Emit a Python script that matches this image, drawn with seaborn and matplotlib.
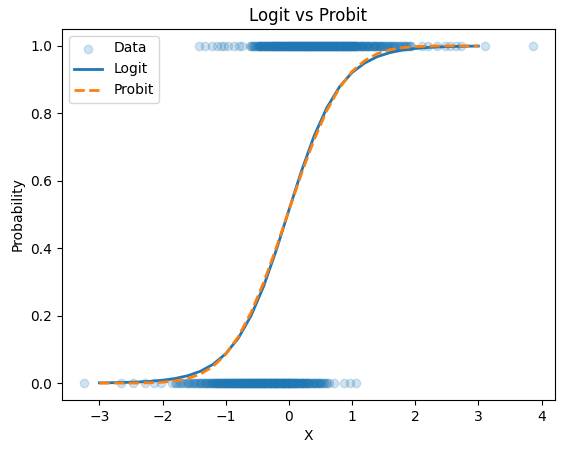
import numpy as np
import pandas as pd
import matplotlib
matplotlib.use("Agg")
import matplotlib.pyplot as plt
import seaborn as sns

x_ones = [-1.43, -1.32, -1.21, -1.13, -1.08, -1.02, -0.96, -0.87, -0.79, -0.74,
          -0.62, -0.58, -0.55, -0.51, -0.48, -0.45, -0.42, -0.40, -0.37, -0.35,
          -0.32, -0.30, -0.28, -0.25, -0.23, -0.21, -0.19, -0.17, -0.15, -0.13,
          -0.11, -0.09, -0.08, -0.06, -0.04, -0.03, -0.01, 0.00, 0.02, 0.03,
          0.05, 0.06, 0.08, 0.09, 0.11, 0.12, 0.14, 0.15, 0.17, 0.18,
          0.20, 0.21, 0.23, 0.24, 0.26, 0.27, 0.29, 0.30, 0.32, 0.33,
          0.35, 0.37, 0.38, 0.40, 0.42, 0.43, 0.45, 0.47, 0.49, 0.51,
          0.53, 0.55, 0.57, 0.59, 0.61, 0.63, 0.65, 0.68, 0.70, 0.72,
          0.75, 0.77, 0.80, 0.82, 0.85, 0.88, 0.91, 0.94, 0.97, 1.00,
          1.03, 1.07, 1.10, 1.14, 1.18, 1.22, 1.26, 1.31, 1.36, 1.41,
          1.46, 1.52, 1.58, 1.65, 1.72, 1.80, 1.87, 1.94,
          2.10, 2.20, 2.34, 2.47, 2.55, 2.65, 2.73, 3.10, 3.86]
# more points in the dark core of the y = 1 row
x_ones_core = [-0.53, -0.49, -0.46, -0.43, -0.41, -0.38, -0.36, -0.33, -0.31, -0.29,
               -0.26, -0.24, -0.22, -0.20, -0.18, -0.16, -0.14, -0.12, -0.10, -0.07,
               -0.05, -0.02, 0.01, 0.04, 0.07, 0.10, 0.13, 0.16, 0.19, 0.22,
               0.25, 0.28, 0.31, 0.34, 0.36, 0.39, 0.41, 0.44, 0.46, 0.48,
               0.50, 0.52, 0.54, 0.56, 0.58, 0.60, 0.62, 0.64, 0.66, 0.67,
               0.69, 0.71, 0.73, 0.74, 0.76, 0.78, 0.79, 0.81, 0.83, 0.84,
               0.86, 0.87, 0.89, 0.90, 0.92, 0.93, 0.95, 0.96, 0.98, 0.99,
               1.01, 1.02, 1.04, 1.05, 1.08, 1.12, 1.16, 1.20, 1.24, 1.28,
               1.33, 1.38, 1.43, 1.49, 1.55, 1.61, 1.68, 1.76, 1.84, 1.91]
x_ones_core2 = [-0.60, -0.56, -0.52, -0.47, -0.44, -0.39, -0.34, -0.27, -0.24, -0.17,
                -0.14, -0.06, 0.00, 0.04, 0.07, 0.10, 0.13, 0.16, 0.19, 0.22,
                0.25, 0.28, 0.31, 0.34, 0.37, 0.40, 0.43, 0.46, 0.49, 0.52,
                0.55, 0.58, 0.61, 0.64, 0.67, 0.70, 0.73, 0.76, 0.79, 0.82,
                0.85, 0.88, 0.91, 0.94, 0.97, 1.00, 1.03, 1.06, 1.09, 1.12,
                1.15, 1.19, 1.23, 1.27, 1.30, 1.34, 1.37, 1.40, 1.44, 1.48,
                1.51, 1.54, 1.57, 1.60, 1.63, 1.66, 1.70, 1.74, 1.78, 1.82,
                1.86, 1.90, 0.05, 0.15, 0.25, 0.35, 0.45, 0.55, 0.65, 0.75,
                0.85, 0.95, 1.05, 1.15, 1.25, 1.35, 1.45, -0.45, -0.35, -0.25,
                -0.15, -0.05]
x_zeros = [-3.24, -2.65, -2.47, -2.28, -2.13, -2.02,
           -1.85, -1.79, -1.73, -1.67, -1.61, -1.56, -1.51, -1.46, -1.41, -1.37,
           -1.33, -1.29, -1.25, -1.21, -1.18, -1.15, -1.12, -1.09, -1.06, -1.03,
           -1.00, -0.97, -0.95, -0.92, -0.90, -0.87, -0.85, -0.82, -0.80, -0.78,
           -0.75, -0.73, -0.71, -0.69, -0.67, -0.65, -0.63, -0.61, -0.59, -0.57,
           -0.55, -0.53, -0.51, -0.49, -0.47, -0.45, -0.43, -0.41, -0.39, -0.37,
           -0.35, -0.33, -0.31, -0.29, -0.27, -0.25, -0.23, -0.21, -0.19, -0.17,
           -0.15, -0.13, -0.11, -0.09, -0.07, -0.05, -0.03, -0.01, 0.01, 0.03,
           0.05, 0.07, 0.10, 0.12, 0.15, 0.17, 0.20, 0.23, 0.26, 0.29,
           0.32, 0.36, 0.40, 0.44, 0.48, 0.53, 0.58, 0.63,
           0.71, 0.87, 0.97, 1.06]
# more points in the dark core of the y = 0 row
x_zeros_core = [-1.58, -1.48, -1.39, -1.31, -1.27, -1.23, -1.19, -1.16, -1.13, -1.10,
                -1.07, -1.04, -1.01, -0.98, -0.96, -0.93, -0.91, -0.88, -0.86, -0.83,
                -0.81, -0.79, -0.76, -0.74, -0.72, -0.70, -0.68, -0.66, -0.64, -0.62,
                -0.60, -0.58, -0.56, -0.54, -0.52, -0.50, -0.48, -0.46, -0.44, -0.42,
                -0.40, -0.38, -0.36, -0.34, -0.32, -0.30, -0.28, -0.26, -0.24, -0.22,
                -0.20, -0.18, -0.16, -0.14, -0.12, -0.10, -0.08, -0.06, -0.04, -0.02,
                0.00, 0.02, 0.04, 0.06, 0.09, 0.11, 0.14, 0.18, 0.21, 0.25,
                0.30, 0.34, 0.38, 0.42, 0.46, 0.50, 0.55, 0.60]
x_zeros_core2 = [-1.80, -1.76, -1.70, -1.64, -1.59, -1.54, -1.49, -1.44, -1.40, -1.35,
                 -1.32, -1.28, -1.24, -1.20, -1.17, -1.14, -1.11, -1.08, -1.05, -1.02,
                 -0.99, -0.96, -0.93, -0.90, -0.87, -0.84, -0.81, -0.78, -0.75, -0.72,
                 -0.69, -0.66, -0.63, -0.60, -0.57, -0.54, -0.51, -0.48, -0.45, -0.42,
                 -0.39, -0.36, -0.33, -0.30, -0.27, -0.24, -0.21, -0.18, -0.15, -0.12,
                 -0.09, -0.06, -0.03, 0.00, 0.03, 0.06, 0.09, 0.13, 0.16, 0.19,
                 0.22, 0.24, 0.27, 0.31, 0.35, 0.39, 0.43, 0.47, 0.51, 0.56,
                 -1.10, -1.00, -0.90, -0.80, -0.70, -0.60, -0.50, -0.40, -0.30, -0.20,
                 -0.10, 0.00, 0.10, 0.20, 0.30]

# fitted curves, values read at x = -3 .. 3
x_curve = [-3.0, -2.8, -2.6, -2.4, -2.2, -2.0, -1.8, -1.6, -1.4, -1.2, -1.0,
           -0.8, -0.6, -0.4, -0.2, 0.0, 0.2, 0.4, 0.6, 0.8, 1.0,
           1.2, 1.4, 1.6, 1.8, 2.0, 2.2, 2.4, 2.6, 2.8, 3.0]
logit_p = [0.0008, 0.0013, 0.0021, 0.0033, 0.0053, 0.0086, 0.0138, 0.0221, 0.0352, 0.0557, 0.0871,
           0.1335, 0.1994, 0.287, 0.394, 0.5125, 0.629, 0.733, 0.816, 0.878, 0.921,
           0.949, 0.968, 0.980, 0.9875, 0.9922, 0.9952, 0.9970, 0.9981, 0.9989, 0.9993]
probit_p = [0.00002, 0.00005, 0.00015, 0.00043, 0.0011, 0.0028, 0.0064, 0.0136, 0.0268, 0.0495, 0.0853,
            0.1379, 0.209, 0.298, 0.401, 0.512, 0.622, 0.722, 0.808, 0.875, 0.924,
            0.956, 0.977, 0.9884, 0.9946, 0.9977, 0.9991, 0.99965, 0.99988, 0.99996, 0.99999]

ones = x_ones + x_ones_core + x_ones_core2
zeros = x_zeros + x_zeros_core + x_zeros_core2
pts = pd.DataFrame({"x": ones + zeros,
                    "y": [1] * len(ones) + [0] * len(zeros)})
curves = pd.DataFrame({"x": x_curve, "logit": logit_p, "probit": probit_p})

fig, ax = plt.subplots(figsize=(5.67, 4.53), dpi=100)
fig.subplots_adjust(left=0.109, right=0.979, top=0.936, bottom=0.117)

sns.scatterplot(data=pts, x="x", y="y", ax=ax, color="C0", alpha=0.2,
                s=36, edgecolor="C0", linewidth=1, label="Data")
sns.lineplot(data=curves, x="x", y="logit", ax=ax, color="C0", linewidth=2,
             label="Logit")
sns.lineplot(data=curves, x="x", y="probit", ax=ax, color="C1", linewidth=2,
             linestyle="--", label="Probit")

ax.set_title("Logit vs Probit")
ax.set_xlabel("X")
ax.set_ylabel("Probability")
ax.legend(loc="upper left")

plt.savefig("out.png")
